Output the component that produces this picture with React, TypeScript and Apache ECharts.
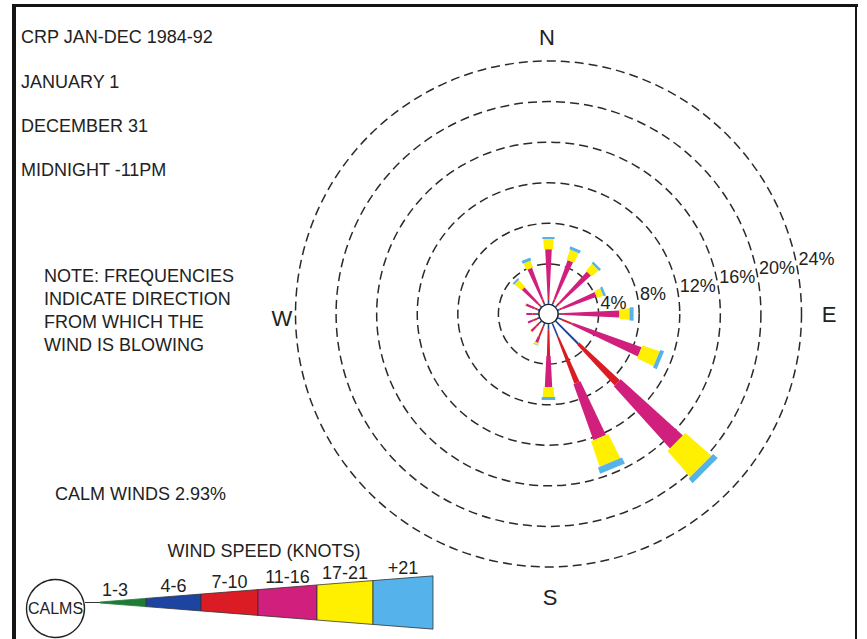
import React, { useEffect, useRef } from "react";
import * as echarts from "echarts";

// ---------- DATA ----------
const DIRECTIONS = ["N", "NNE", "NE", "ENE", "E", "ESE", "SE", "SSE", "S", "SSW", "SW", "WSW", "W", "WNW", "NW", "NNW"];
const SPEED_CLASSES = ["1-3", "4-6", "7-10", "11-16", "17-21", "+21"];
// frequency (%) of wind from each direction, per speed class (knots)
const SPEED_1_3 = [0.1, 0.05, 0.05, 0.05, 0.1, 0.1, 0.1, 0.1, 0.1, 0.05, 0.05, 0.05, 0.05, 0.05, 0.05, 0.05];
const SPEED_4_6 = [0.35, 0.2, 0.2, 0.2, 0.2, 0.4, 3.1, 1.4, 0.5, 0.35, 0.3, 0.25, 0.25, 0.2, 0.15, 0.2];
const SPEED_7_10 = [0.4, 0.35, 0.35, 0.3, 0.3, 1.1, 5.45, 4.9, 2.6, 1.1, 0.45, 0.35, 0.35, 0.3, 0.3, 0.35];
const SPEED_11_16 = [4.6, 4.1, 4.1, 3.55, 5.45, 7.2, 8.25, 5.85, 3.05, 0.6, 0.65, 0.6, 0.6, 0.9, 2.1, 3.3];
const SPEED_17_21 = [1.0, 1.05, 0.9, 0.65, 1.0, 1.8, 3.4, 2.65, 1.0, 0.2, 0.05, 0, 0, 0.1, 0.9, 0.7];
const SPEED_21_PLUS = [0.2, 0.3, 0.25, 0.25, 0.4, 0.4, 0.6, 0.65, 0.3, 0.05, 0, 0, 0, 0, 0.2, 0.3];
const RING_TICKS = [4, 8, 12, 16, 20, 24];
const RING_LABELS = ["4%", "8%", "12%", "16%", "20%", "24%"];
const CALM_WINDS = 2.93;
const TITLE_LINES = ["CRP JAN-DEC 1984-92", "JANUARY 1", "DECEMBER 31", "MIDNIGHT -11PM"];
const NOTE_LINES = ["NOTE: FREQUENCIES", "INDICATE DIRECTION", "FROM WHICH THE", "WIND IS BLOWING"];

// ---------- STYLE / LAYOUT ----------
const COLORS = ["#1f7a35", "#1c44a0", "#dc1c24", "#d01f7c", "#fff000", "#55b2ea"];
const HALF_ANGLE = [1.0, 1.5, 2.2, 2.9, 4.0, 4.6];
const MIN_HALF = [0.6, 0.8, 0.9, 1.0, 1.2, 1.4];
const CX = 548.5;
const CY = 314;
const R_IN = 9.5;
const R_OUT = 253;
const FONT = "'Liberation Sans', Arial, Helvetica, sans-serif";
const INK = "#222";
const LEG_X = [100, 146, 201, 258, 317, 373, 433];
const LEG_CY = 602.5;

const SPEEDS = [SPEED_1_3, SPEED_4_6, SPEED_7_10, SPEED_11_16, SPEED_17_21, SPEED_21_PLUS];

function makeRender(k: number) {
  return (params: any, api: any) => {
    const r0 = api.value(0);
    const r1 = api.value(1);
    const ang = api.value(2);
    if (!(r1 - r0 > 0)) return { type: "group", children: [] };
    const cs = params.coordSys;
    const a = api.coord([r0, ang]);
    const b = api.coord([r1, ang]);
    const da = Math.hypot(a[0] - cs.cx, a[1] - cs.cy);
    const db = Math.hypot(b[0] - cs.cx, b[1] - cs.cy);
    const ux = (b[0] - cs.cx) / db;
    const uy = (b[1] - cs.cy) / db;
    const nx = -uy;
    const ny = ux;
    const t = Math.tan((HALF_ANGLE[k] * Math.PI) / 180);
    const ha = Math.max(MIN_HALF[k], da * t);
    const hb = Math.max(MIN_HALF[k], db * t);
    return {
      type: "polygon",
      shape: {
        points: [
          [a[0] + nx * ha, a[1] + ny * ha],
          [b[0] + nx * hb, b[1] + ny * hb],
          [b[0] - nx * hb, b[1] - ny * hb],
          [a[0] - nx * ha, a[1] - ny * ha],
        ],
      },
      style: { fill: COLORS[k], stroke: null },
    };
  };
}

function text(t: string, x: number, y: number, size: number, align = "left", extra: any = {}) {
  return {
    type: "text",
    z: 50,
    silent: true,
    style: {
      text: t,
      x,
      y,
      fill: INK,
      font: `${size}px ${FONT}`,
      align,
      verticalAlign: "middle",
      textAlign: align,
      textVerticalAlign: "middle",
      ...extra,
    },
  };
}

function legendHalf(x: number) {
  return 0.5 + (x - 100) * 0.0785;
}

export default function App() {
  const ref = useRef<HTMLDivElement>(null);

  useEffect(() => {
    if (!ref.current) return;
    const chart = echarts.init(ref.current, null, { renderer: "svg" });

    const series: any[] = [];
    const cum = DIRECTIONS.map(() => 0);
    SPEEDS.forEach((arr, k) => {
      const data = DIRECTIONS.map((_, i) => {
        const s = cum[i];
        const e = s + arr[i];
        cum[i] = e;
        return [s, e, i * 22.5];
      });
      series.push({
        type: "custom",
        name: SPEED_CLASSES[k],
        coordinateSystem: "polar",
        encode: { radius: 1, angle: 2 },
        renderItem: makeRender(k),
        data,
        silent: true,
        z: 3,
      });
    });

    series.push({
      type: "scatter",
      coordinateSystem: "polar",
      symbolSize: 0,
      silent: true,
      itemStyle: { opacity: 1 },
      data: RING_TICKS.map((t, i) => ({ value: [t, 77.5], name: RING_LABELS[i] })),
      label: {
        show: true,
        position: "right",
        distance: 3,
        formatter: "{b}",
        fontSize: 18,
        fontFamily: FONT,
        color: INK,
        opacity: 1,
      },
      z: 10,
    });

    const graphic: any[] = [];
    // frame
    graphic.push({ type: "rect", shape: { x: 12, y: 4, width: 4, height: 640 }, style: { fill: "#141414" }, z: 60 });
    graphic.push({ type: "rect", shape: { x: 12, y: 4, width: 846, height: 3 }, style: { fill: "#141414" }, z: 60 });
    graphic.push({ type: "rect", shape: { x: 855, y: 4, width: 2, height: 640 }, style: { fill: "#141414" }, z: 60 });

    // title / notes
    const titleY = [37, 82, 126, 170];
    TITLE_LINES.forEach((t, i) => graphic.push(text(t, 21, titleY[i], 18)));
    NOTE_LINES.forEach((t, i) => graphic.push(text(t, 44, 276 + i * 23, 18)));
    graphic.push(text(`CALM WINDS ${CALM_WINDS.toFixed(2)}%`, 55, 494, 18));

    // compass letters
    graphic.push(text("N", 547, 37, 22, "center"));
    graphic.push(text("S", 550, 597, 22, "center"));
    graphic.push(text("W", 282, 318, 22, "center"));
    graphic.push(text("E", 829, 314, 22, "center"));

    // calm circle at centre
    graphic.push({
      type: "circle",
      z: 100,
      silent: true,
      shape: { cx: CX, cy: CY, r: R_IN },
      style: { fill: "#fff", stroke: "#222", lineWidth: 1.3 },
    });

    // legend
    graphic.push(text("WIND SPEED (KNOTS)", 264, 551, 18, "center"));
    graphic.push({
      type: "circle",
      z: 50,
      shape: { cx: 55.5, cy: 608.5, r: 29 },
      style: { fill: "#fff", stroke: "#222", lineWidth: 1.4 },
    });
    graphic.push(text("CALMS", 55.5, 608.5, 16, "center"));
    graphic.push({
      type: "line",
      z: 50,
      shape: { x1: 85, y1: LEG_CY, x2: 100, y2: LEG_CY },
      style: { stroke: "#333", lineWidth: 1 },
    });
    SPEED_CLASSES.forEach((label, k) => {
      const x0 = LEG_X[k];
      const x1 = LEG_X[k + 1];
      const h0 = legendHalf(x0);
      const h1 = legendHalf(x1);
      graphic.push({
        type: "polygon",
        z: 50,
        shape: {
          points: [
            [x0, LEG_CY - h0],
            [x1, LEG_CY - h1],
            [x1, LEG_CY + h1],
            [x0, LEG_CY + h0],
          ],
        },
        style: { fill: COLORS[k], stroke: k === 0 ? COLORS[0] : "#333", lineWidth: 0.8 },
      });
      const mid = (x0 + x1) / 2 - (k === 0 ? 8 : 0);
      graphic.push(text(label, mid, LEG_CY - legendHalf((x0 + x1) / 2) - 10, 18, "center"));
    });

    chart.setOption({
      animation: false,
      backgroundColor: "#ffffff",
      polar: { center: [CX, CY], radius: [R_IN, R_OUT] },
      angleAxis: {
        type: "value",
        min: 0,
        max: 360,
        startAngle: 90,
        clockwise: true,
        axisLine: { show: false },
        axisTick: { show: false },
        axisLabel: { show: false },
        splitLine: { show: false },
      },
      radiusAxis: {
        type: "value",
        min: 0,
        max: 24,
        interval: 4,
        axisLine: { show: false },
        axisTick: { show: false },
        axisLabel: { show: false },
        splitLine: { show: true, lineStyle: { type: [9, 5], color: "#2a2a2a", width: 1.5 } },
      },
      series,
      graphic,
    });

    return () => chart.dispose();
  }, []);

  return (
    <div
      ref={ref}
      style={{ position: "absolute", left: 0, top: 0, width: 867, height: 639, background: "#fff" }}
    />
  );
}
